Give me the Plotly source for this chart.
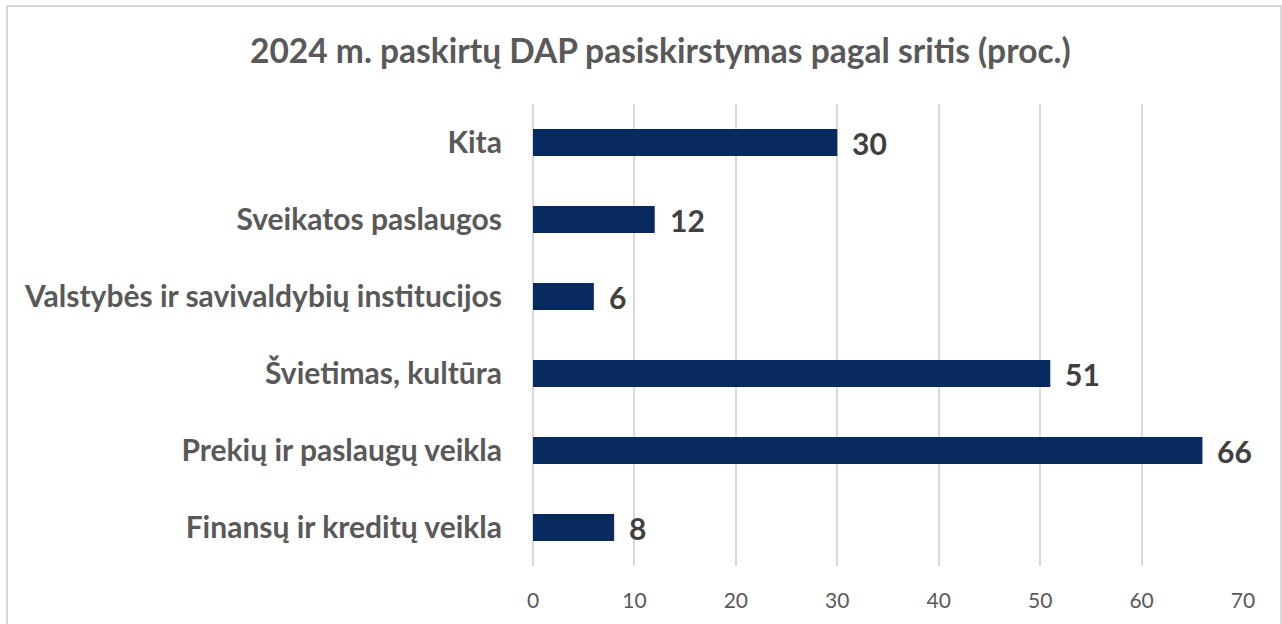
import plotly.graph_objects as go

categories = ["Finansų ir kreditų veikla", "Prekių ir paslaugų veikla", "Švietimas, kultūra",
              "Valstybės ir savivaldybių institucijos", "Sveikatos paslaugos", "Kita"]
values = [8, 66, 51, 6, 12, 30]
tick_vals = [0, 10, 20, 30, 40, 50, 60, 70]
title_text = "2024 m. paskirtų DAP pasiskirstymas pagal sritis (proc.)"

FONT = "Lato, 'Open Sans', sans-serif"
W, H = 1282, 624
ML, MR, MT, MB = 533, 39, 104, 58
pw, ph = W - ML - MR, H - MT - MB

fig = go.Figure()
fig.add_trace(go.Bar(
    x=values, y=categories, orientation="h",
    marker=dict(color="#082a5e", line=dict(width=0)),
    width=0.35, hoverinfo="x+y",
))

for c, v in zip(categories, values):
    fig.add_annotation(x=v, y=c, text=f"<b>{v}</b>", showarrow=False,
                       xanchor="left", yanchor="middle", xshift=13,
                       font=dict(family=FONT, size=30, color="#404040"))

def px_x(p):
    return (p - ML) / pw

def px_y(p):
    return (H - MB - p) / ph

fig.add_shape(type="rect", xref="paper", yref="paper",
              x0=px_x(7), x1=px_x(1281), y0=px_y(640), y1=px_y(6),
              line=dict(color="#d9d9d9", width=2), fillcolor="rgba(0,0,0,0)", layer="below")

fig.add_annotation(xref="paper", yref="paper", x=px_x(660), y=px_y(50),
                   text=f"<b>{title_text}</b>", showarrow=False,
                   xanchor="center", yanchor="middle",
                   font=dict(family=FONT, size=33.5, color="#595959"))

fig.update_layout(
    width=W, height=H,
    margin=dict(l=ML, r=MR, t=MT, b=MB),
    paper_bgcolor="white", plot_bgcolor="white",
    showlegend=False,
    xaxis=dict(range=[0, 70], tickvals=tick_vals, showgrid=True,
               gridcolor="#d9d9d9", gridwidth=1.5, zeroline=True,
               zerolinecolor="#d9d9d9", zerolinewidth=1.5, showline=False,
               ticks="", ticklabelstandoff=20,
               tickfont=dict(family=FONT, size=21, color="#595959")),
    yaxis=dict(categoryorder="array", categoryarray=categories, showgrid=False,
               showline=False, ticks="", ticklabelstandoff=30,
               tickfont=dict(family=FONT, size=30, color="#595959", weight="bold")),
)

fig.write_html("out.html", config={"displayModeBar": False},
               post_script="document.body.style.margin='0';document.body.style.overflow='hidden';")
